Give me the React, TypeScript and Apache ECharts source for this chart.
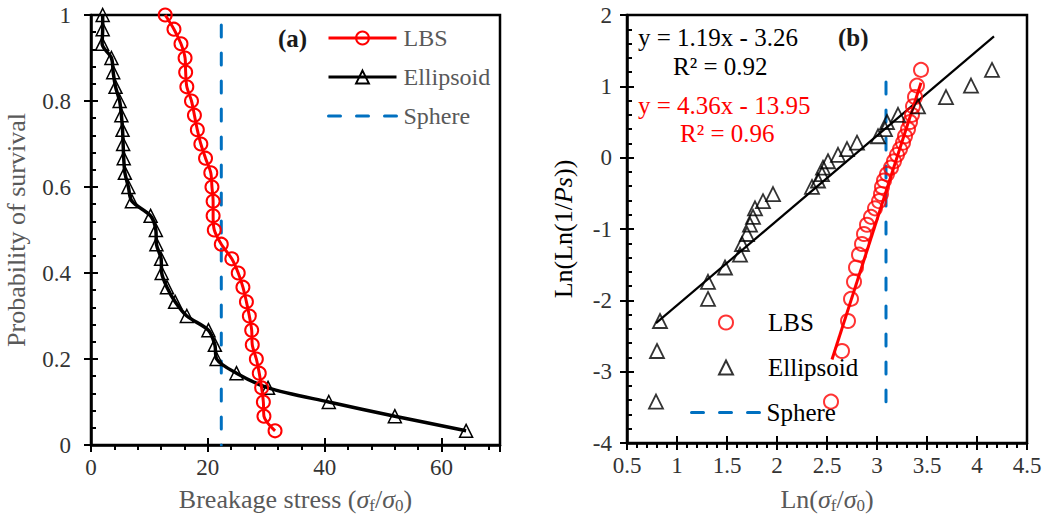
import React, { useEffect, useRef } from 'react';
import * as echarts from 'echarts';

// ---------- Panel (a): survival probability vs breakage stress ----------
const survivalProb = [1, 0.967, 0.933, 0.9, 0.867, 0.833, 0.8, 0.767, 0.733, 0.7, 0.667, 0.633, 0.6, 0.567, 0.533, 0.5, 0.467, 0.433, 0.4, 0.367, 0.333, 0.3, 0.267, 0.233, 0.2, 0.167, 0.133, 0.1, 0.067, 0.033];
const lbsStress = [12.7, 14.2, 15.4, 16.1, 16.2, 16.4, 17.2, 17.7, 18.2, 18.8, 19.6, 20.5, 20.7, 20.9, 20.9, 21.1, 22.3, 24.1, 25.2, 26.0, 26.6, 27.1, 27.5, 27.6, 28.3, 28.8, 29.2, 29.5, 29.6, 31.5];
const ellipsoidStress = [2.0, 2.0, 1.9, 3.5, 3.8, 4.2, 4.9, 5.2, 5.4, 5.5, 5.6, 5.8, 6.4, 7.0, 10.2, 11.1, 11.2, 12.0, 12.1, 13.0, 14.4, 16.4, 20.1, 21.2, 21.5, 24.9, 30.3, 40.7, 52.0, 64.2];
const sphereStress = 22.3;
const sphereProbRange = [0.977, 0];

// ---------- Panel (b): Weibull plot ----------
const weibullY = [-3.42, -2.71, -2.29, -1.98, -1.74, -1.54, -1.36, -1.21, -1.07, -0.94, -0.83, -0.71, -0.61, -0.51, -0.41, -0.32, -0.23, -0.14, -0.05, 0.04, 0.12, 0.21, 0.30, 0.40, 0.50, 0.60, 0.72, 0.85, 1.01, 1.23];
const lbsLnStress = [2.54, 2.65, 2.71, 2.74, 2.77, 2.79, 2.82, 2.85, 2.87, 2.90, 2.94, 2.98, 3.02, 3.04, 3.05, 3.07, 3.10, 3.14, 3.17, 3.20, 3.23, 3.26, 3.28, 3.31, 3.33, 3.35, 3.36, 3.38, 3.40, 3.44];
const ellipsoidLnStress = [0.79, 0.80, 0.83, 1.31, 1.31, 1.48, 1.63, 1.65, 1.70, 1.73, 1.76, 1.78, 1.86, 1.96, 2.35, 2.41, 2.45, 2.46, 2.51, 2.61, 2.70, 2.80, 3.01, 3.08, 3.10, 3.21, 3.41, 3.69, 3.94, 4.15];
const ellipsoidFit = [[0.79, -2.32], [4.17, 1.70]];
const lbsFit = [[2.55, -2.83], [3.44, 1.05]];
const sphereLnStress = 3.09;
const sphereLnRange = [1.06, -3.42];

const legendNames = ['LBS', 'Ellipsoid', 'Sphere'];
const equations = ['y = 1.19x - 3.26', 'R² = 0.92', 'y = 4.36x - 13.95', 'R² = 0.96'];

const FONT = "'Times New Roman', 'Liberation Serif', serif";
const RED = '#ff0000';
const BLUE = '#0070c0';
const CLEAR = 'rgba(0,0,0,0)';

function nameStyle(color: string) {
  return {
    color,
    fontFamily: FONT,
    fontSize: 26,
    lineHeight: 30,
    rich: {
      i: { color, fontFamily: FONT, fontSize: 26, fontStyle: 'italic', lineHeight: 30 },
      s: { color, fontFamily: FONT, fontSize: 17, verticalAlign: 'bottom', lineHeight: 16 },
    },
  };
}

function axes(grid: number, dim: 'x' | 'y', min: number, max: number, interval: number, labelMargin: number, name: string, nameGap: number, nameColor: string) {
  const isX = dim === 'x';
  const primary: any = {
    type: 'value',
    gridIndex: grid,
    position: isX ? 'bottom' : 'left',
    min, max, interval,
    axisLine: { show: true, onZero: false, lineStyle: { color: '#000', width: 2.5 } },
    axisTick: { show: true, inside: !isX, length: 7, lineStyle: { color: '#000', width: 2 } },
    minorTick: { show: true, splitNumber: 5, length: 5, lineStyle: { color: '#000', width: 2 } },
    axisLabel: { color: '#333', fontSize: 23, fontFamily: FONT, margin: labelMargin, showMaxLabel: isX && max === 70 ? false : true },
    splitLine: { show: false },
    minorSplitLine: { show: false },
    name,
    nameLocation: 'middle',
    nameGap,
    nameTextStyle: nameStyle(nameColor),
  };
  const overlay: any = {
    type: 'value',
    gridIndex: grid,
    position: isX ? 'bottom' : 'left',
    min, max, interval,
    axisLine: { show: false, onZero: false },
    axisTick: { show: true, inside: isX, length: 7, lineStyle: { color: '#000', width: 2 } },
    minorTick: { show: false },
    axisLabel: { show: false },
    splitLine: { show: false },
  };
  return [primary, overlay];
}

function buildOption(): any {
  const xAxis = [
    ...axes(0, 'x', 0, 70, 20, 11, 'Breakage stress ({i|σ}{s|f}/{i|σ}{s|0})', 39, '#595959'),
    ...axes(1, 'x', 0.5, 4.5, 0.5, 11, 'Ln({i|σ}{s|f}/{i|σ}{s|0})', 41, '#595959'),
  ];
  const yAxis = [
    ...axes(0, 'y', 0, 1, 0.2, 20, 'Probability of survival', 60, '#595959'),
    ...axes(1, 'y', -4, 2, 1, 15, 'Ln(Ln(1/{i|Ps}))', 49, '#000'),
  ];

  const series: any[] = [
    {
      type: 'line', name: 'LBS', xAxisIndex: 0, yAxisIndex: 0,
      data: lbsStress.map((x, i) => [x, survivalProb[i]]),
      smooth: 0.3, symbol: 'circle', symbolSize: 13, showSymbol: true,
      lineStyle: { color: RED, width: 3 },
      itemStyle: { color: CLEAR, borderColor: RED, borderWidth: 2 },
      z: 4,
    },
    {
      type: 'line', name: 'Ellipsoid', xAxisIndex: 0, yAxisIndex: 0,
      data: ellipsoidStress.map((x, i) => [x, survivalProb[i]]),
      smooth: 0.3, symbol: 'triangle', symbolSize: 13, showSymbol: true,
      lineStyle: { color: '#000', width: 3.5 },
      itemStyle: { color: CLEAR, borderColor: '#000', borderWidth: 1.5 },
      z: 3,
    },
    {
      type: 'line', name: 'Sphere', xAxisIndex: 0, yAxisIndex: 0,
      data: sphereProbRange.map((p) => [sphereStress, p]),
      symbol: 'none',
      lineStyle: { color: BLUE, width: 3, type: [12, 16], cap: 'round' },
      itemStyle: { color: CLEAR, borderColor: CLEAR, borderWidth: 0 },
      z: 2,
    },
    {
      type: 'scatter', name: 'LBS ', xAxisIndex: 2, yAxisIndex: 2,
      data: lbsLnStress.map((x, i) => [x, weibullY[i]]),
      symbol: 'circle', symbolSize: 14,
      itemStyle: { color: CLEAR, borderColor: RED, borderWidth: 2 },
      z: 4,
    },
    {
      type: 'scatter', name: 'Ellipsoid ', xAxisIndex: 2, yAxisIndex: 2,
      data: ellipsoidLnStress.map((x, i) => [x, weibullY[i]]),
      symbol: 'triangle', symbolSize: 14,
      itemStyle: { color: CLEAR, borderColor: '#000', borderWidth: 1.8 },
      z: 4,
    },
    {
      type: 'line', name: 'Ellipsoid fit', xAxisIndex: 2, yAxisIndex: 2,
      data: ellipsoidFit, symbol: 'none',
      lineStyle: { color: '#000', width: 2.2 },
      z: 3,
    },
    {
      type: 'line', name: 'LBS fit', xAxisIndex: 2, yAxisIndex: 2,
      data: lbsFit, symbol: 'none',
      lineStyle: { color: RED, width: 3 },
      z: 3,
    },
    {
      type: 'line', name: 'Sphere ', xAxisIndex: 2, yAxisIndex: 2,
      data: sphereLnRange.map((v) => [sphereLnStress, v]),
      symbol: 'none',
      lineStyle: { color: BLUE, width: 3, type: [12, 16], cap: 'round' },
      itemStyle: { color: CLEAR, borderColor: CLEAR, borderWidth: 0 },
      z: 2,
    },
  ];

  const eqStyle = (text: string, x: number, y: number, fill: string, weight = 'normal') => ({
    type: 'text', x, y, silent: true,
    style: { text, fill, font: `${weight} 25px ${FONT}`, verticalAlign: 'middle', textVerticalAlign: 'middle', align: 'left' },
  });

  const rightLegendText = { color: '#000', fontSize: 25, fontFamily: FONT, lineHeight: 27 };

  return {
    animation: false,
    backgroundColor: '#fff',
    grid: [
      { left: 91, top: 15, width: 409, height: 430, show: true, borderColor: '#000', borderWidth: 2.5, backgroundColor: CLEAR, containLabel: false, outerBoundsMode: 'none' },
      { left: 627, top: 15, width: 400, height: 428, show: true, borderColor: '#000', borderWidth: 2.5, backgroundColor: CLEAR, containLabel: false, outerBoundsMode: 'none' },
    ],
    xAxis,
    yAxis,
    legend: [
      {
        data: legendNames, orient: 'vertical', left: 327, top: 25,
        itemWidth: 68, itemHeight: 16, itemGap: 13, padding: 0, selectedMode: false,
        lineStyle: { width: 3 },
        textStyle: { color: '#595959', fontSize: 24, fontFamily: FONT, lineHeight: 26, padding: [0, 0, 0, 2] },
      },
      {
        data: legendNames.slice(0, 2).map((n) => n + ' '), orient: 'vertical', left: 718, top: 309,
        itemWidth: 14, itemHeight: 14, itemGap: 18, padding: 0, selectedMode: false,
        formatter: (n: string) => n.trim(),
        textStyle: { ...rightLegendText, padding: [0, 0, 0, 30] },
      },
      {
        data: [legendNames[2] + ' '], orient: 'vertical', left: 690, top: 399,
        itemWidth: 70, itemHeight: 14, padding: 0, selectedMode: false,
        formatter: (n: string) => n.trim(),
        lineStyle: { width: 3 },
        textStyle: rightLegendText,
      },
    ],
    graphic: [
      eqStyle('(a)', 278, 38, '#1a1a1a', 'bold'),
      eqStyle('(b)', 838, 37, '#1a1a1a', 'bold'),
      eqStyle(equations[0], 638, 37, '#000'),
      eqStyle(equations[1], 673, 66, '#000'),
      eqStyle(equations[2], 638, 105, RED),
      eqStyle(equations[3], 680, 133, RED),
    ],
    series,
  };
}

export default function App() {
  const ref = useRef<HTMLDivElement>(null);
  useEffect(() => {
    if (!ref.current) return;
    const chart = echarts.init(ref.current, undefined, { renderer: 'svg' });
    chart.setOption(buildOption());
    return () => chart.dispose();
  }, []);
  return <div ref={ref} style={{ position: 'absolute', left: 0, top: 0, width: 1046, height: 518 }} />;
}
